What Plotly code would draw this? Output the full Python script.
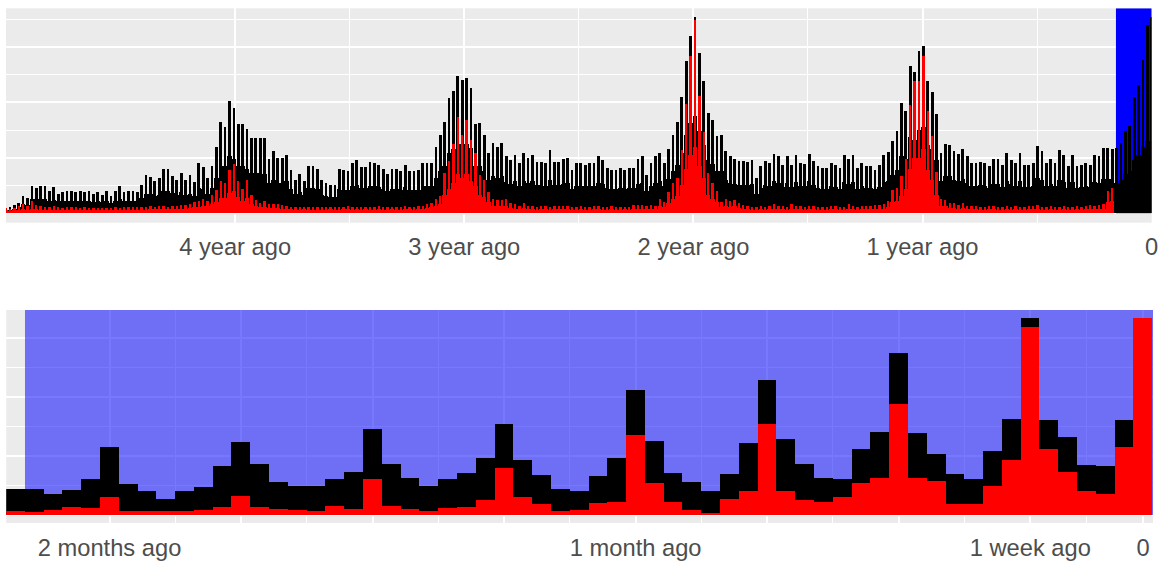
import plotly.graph_objects as go

# ---------------- data: top panel (weekly, 5 years, index 0 = oldest week) ----------------
weeks_ago = list(range(261, -1, -1))

top_black_peak = [
    0.12, 0.2, 0.3, 0.36, 0.6, 0.54, 0.98, 0.92, 0.98, 0.98,
    0.78, 0.95, 0.7, 0.76, 0.8, 0.8, 0.76, 0.78, 0.76, 0.78,
    0.7, 0.76, 0.64, 0.8, 0.62, 0.8, 0.98, 0.76, 0.8, 0.8,
    0.76, 1.02, 1.38, 1.3, 1.15, 1.26, 1.6, 1.58, 1.35, 1.2,
    1.45, 1.2, 1.38, 1.12, 1.8, 1.65, 1.25, 1.7, 2.4, 3.3,
    3.1, 4.05, 3.8, 3.2, 3.2, 3.05, 2.7, 2.7, 2.7, 2.7,
    1.95, 2.25, 2.0, 2.0, 2.1, 1.55, 1.2, 1.4, 1.15, 1.7,
    1.7, 1.6, 1.2, 1.1, 1.0, 1.0, 1.6, 1.55, 1.5, 1.82,
    1.9, 1.65, 1.65, 1.85, 1.8, 1.75, 1.6, 1.4, 1.6, 1.6,
    1.5, 1.75, 1.5, 1.5, 1.55, 1.8, 1.8, 1.8, 2.4, 2.8,
    3.3, 4.15, 4.4, 4.93, 4.8, 4.87, 4.5, 3.2, 3.25, 2.8,
    2.17, 2.52, 2.4, 2.52, 2.05, 1.93, 2.1, 1.8, 2.15, 2.0,
    2.1, 1.85, 1.83, 1.8, 2.29, 1.85, 1.85, 1.95, 2.0, 1.55,
    1.8, 1.8, 1.75, 1.8, 1.8, 2.05, 1.93, 1.62, 1.55, 1.55,
    1.62, 1.55, 1.62, 1.62, 1.95, 2.05, 1.38, 1.82, 2.05, 2.17,
    1.8, 2.3, 2.8, 3.27, 4.19, 5.48, 6.38, 7.08, 5.78, 4.75,
    3.61, 3.35, 2.77, 2.8, 2.23, 2.05, 1.95, 1.87, 1.87, 1.83,
    1.93, 1.26, 1.68, 1.87, 1.8, 2.14, 2.07, 1.75, 2.07, 1.75,
    2.1, 1.8, 1.77, 2.14, 1.87, 1.68, 1.62, 1.62, 1.8, 1.75,
    1.62, 2.1, 1.95, 2.1, 1.62, 1.82, 1.68, 1.68, 1.56, 1.75,
    2.1, 2.2, 2.6, 2.95, 3.97, 3.67, 5.29, 5.1, 5.84, 6.02,
    4.75, 4.36, 3.59, 2.17, 2.5, 2.47, 2.23, 2.14, 2.31, 2.05,
    1.8, 1.8, 1.83, 1.8, 1.68, 1.95, 1.95, 1.75, 2.17, 1.93,
    1.8, 2.17, 1.75, 1.72, 1.8, 2.41, 2.23, 1.8, 1.95, 1.8,
    2.29, 2.11, 1.68, 2.11, 1.68, 1.75, 1.8, 1.75, 2.11, 2.05,
    2.35, 2.35, 2.31, 2.35, 2.53, 2.95, 3.13, 4.19, 4.62, 5.54,
    6.79, 7.08,
]

top_black_base = [
    0.08, 0.1, 0.15, 0.2, 0.32, 0.3, 0.5, 0.5, 0.5, 0.5,
    0.44, 0.48, 0.42, 0.42, 0.44, 0.44, 0.42, 0.42, 0.42, 0.42,
    0.4, 0.42, 0.38, 0.42, 0.36, 0.42, 0.5, 0.42, 0.44, 0.44,
    0.42, 0.55, 0.7, 0.68, 0.62, 0.66, 0.8, 0.8, 0.72, 0.66,
    0.74, 0.66, 0.7, 0.62, 0.9, 0.88, 0.7, 0.9, 1.25, 1.7,
    1.7, 2.05, 1.95, 1.7, 1.7, 1.6, 1.45, 1.45, 1.45, 1.4,
    1.1, 1.2, 1.1, 1.1, 1.15, 0.85, 0.68, 0.76, 0.64, 0.92,
    0.92, 0.86, 0.66, 0.62, 0.58, 0.58, 0.86, 0.84, 0.82, 0.98,
    1.0, 0.9, 0.9, 0.98, 0.96, 0.94, 0.86, 0.78, 0.86, 0.86,
    0.82, 0.94, 0.82, 0.82, 0.84, 0.96, 0.96, 0.96, 1.25, 1.5,
    1.7, 2.15, 2.3, 2.5, 2.5, 2.5, 2.35, 1.7, 1.7, 1.5,
    1.2, 1.35, 1.28, 1.35, 1.12, 1.05, 1.14, 0.98, 1.14, 1.08,
    1.14, 1.0, 1.0, 0.98, 1.2, 1.0, 1.0, 1.05, 1.08, 0.85,
    0.98, 0.98, 0.96, 0.98, 0.98, 1.1, 1.05, 0.9, 0.85, 0.85,
    0.9, 0.85, 0.9, 0.9, 1.05, 1.1, 0.78, 0.98, 1.1, 1.16,
    0.98, 1.24, 1.5, 1.72, 2.15, 2.8, 3.25, 3.5, 2.95, 2.45,
    1.9, 1.78, 1.5, 1.5, 1.2, 1.1, 1.05, 1.0, 1.0, 1.0,
    1.03, 0.7, 0.9, 1.0, 0.97, 1.14, 1.1, 0.95, 1.1, 0.95,
    1.12, 0.97, 0.96, 1.14, 1.0, 0.9, 0.88, 0.88, 0.97, 0.95,
    0.88, 1.12, 1.05, 1.12, 0.88, 0.98, 0.9, 0.9, 0.85, 0.95,
    1.12, 1.16, 1.38, 1.55, 2.05, 1.95, 2.75, 2.65, 3.0, 3.1,
    2.45, 2.3, 1.9, 1.16, 1.32, 1.32, 1.2, 1.14, 1.24, 1.1,
    0.98, 0.98, 1.0, 0.98, 0.9, 1.05, 1.05, 0.95, 1.14, 1.04,
    0.98, 1.14, 0.95, 0.93, 0.98, 1.25, 1.18, 0.98, 1.05, 0.98,
    1.2, 1.12, 0.9, 1.12, 0.9, 0.95, 0.98, 0.95, 1.12, 1.1,
    1.24, 1.24, 1.22, 1.1, 1.2, 1.4, 1.5, 1.9, 2.1, 2.4,
    2.6, 2.6,
]

top_red_peak = [
    0.18, 0.14, 0.18, 0.24, 0.32, 0.24, 0.45, 0.28, 0.24, 0.22,
    0.2, 0.24, 0.2, 0.18, 0.2, 0.2, 0.2, 0.18, 0.2, 0.18,
    0.18, 0.18, 0.18, 0.18, 0.18, 0.2, 0.18, 0.2, 0.2, 0.2,
    0.22, 0.22, 0.2, 0.24, 0.22, 0.24, 0.26, 0.22, 0.24, 0.26,
    0.28, 0.3, 0.34, 0.4, 0.42, 0.5, 0.45, 0.66, 0.82, 1.14,
    1.08, 1.56, 1.78, 1.14, 0.87, 1.2, 0.66, 0.48, 0.36, 0.42,
    0.32, 0.32, 0.32, 0.28, 0.24, 0.22, 0.2, 0.2, 0.22, 0.2,
    0.2, 0.2, 0.2, 0.2, 0.22, 0.2, 0.2, 0.22, 0.24, 0.2,
    0.22, 0.2, 0.22, 0.2, 0.2, 0.26, 0.2, 0.2, 0.22, 0.2,
    0.2, 0.24, 0.22, 0.2, 0.24, 0.26, 0.32, 0.36, 0.5, 0.63,
    1.44, 1.86, 2.5, 3.47, 2.8, 3.37, 2.65, 2.17, 1.38, 1.2,
    0.75, 0.5, 0.48, 0.46, 0.5, 0.36, 0.32, 0.26, 0.36, 0.24,
    0.24, 0.22, 0.24, 0.26, 0.22, 0.24, 0.24, 0.26, 0.24, 0.22,
    0.22, 0.24, 0.2, 0.22, 0.26, 0.24, 0.22, 0.2, 0.24, 0.22,
    0.2, 0.22, 0.2, 0.28, 0.28, 0.28, 0.24, 0.28, 0.26, 0.5,
    0.38, 0.75, 1.08, 1.26, 2.29, 3.95, 5.68, 6.98, 4.21, 2.91,
    1.44, 1.1, 0.78, 0.4, 0.5, 0.42, 0.46, 0.36, 0.28, 0.24,
    0.22, 0.2, 0.24, 0.22, 0.24, 0.32, 0.26, 0.24, 0.22, 0.32,
    0.26, 0.24, 0.22, 0.24, 0.24, 0.2, 0.22, 0.2, 0.26, 0.24,
    0.22, 0.2, 0.32, 0.24, 0.22, 0.26, 0.24, 0.26, 0.28, 0.28,
    0.32, 0.45, 0.82, 0.9, 1.32, 1.95, 3.91, 4.78, 4.78, 5.68,
    3.67, 2.77, 1.47, 0.5, 0.48, 0.36, 0.36, 0.28, 0.36, 0.26,
    0.24, 0.24, 0.22, 0.2, 0.26, 0.24, 0.22, 0.2, 0.24, 0.22,
    0.24, 0.2, 0.22, 0.26, 0.24, 0.28, 0.2, 0.22, 0.24, 0.2,
    0.22, 0.26, 0.2, 0.22, 0.24, 0.22, 0.26, 0.28, 0.26, 0.3,
    0.32, 0.78, 0.9, 0.0, 0.0, 0.0, 0.0, 0.0, 0.0, 0.0,
    0.0, 7.08,
]

top_red_base = [
    0.1, 0.08, 0.1, 0.12, 0.14, 0.12, 0.16, 0.13, 0.12, 0.12,
    0.12, 0.12, 0.12, 0.12, 0.12, 0.12, 0.12, 0.12, 0.12, 0.12,
    0.12, 0.12, 0.12, 0.12, 0.12, 0.12, 0.12, 0.12, 0.12, 0.12,
    0.12, 0.12, 0.12, 0.13, 0.13, 0.13, 0.14, 0.13, 0.13, 0.14,
    0.15, 0.16, 0.18, 0.2, 0.22, 0.26, 0.25, 0.34, 0.4, 0.55,
    0.55, 0.72, 0.8, 0.58, 0.45, 0.55, 0.34, 0.26, 0.2, 0.22,
    0.18, 0.18, 0.18, 0.16, 0.14, 0.13, 0.12, 0.12, 0.13, 0.12,
    0.12, 0.12, 0.12, 0.12, 0.13, 0.12, 0.12, 0.13, 0.13, 0.12,
    0.13, 0.12, 0.13, 0.12, 0.12, 0.14, 0.12, 0.12, 0.13, 0.12,
    0.12, 0.13, 0.13, 0.12, 0.13, 0.14, 0.17, 0.2, 0.26, 0.32,
    0.65, 0.85, 1.1, 1.4, 1.25, 1.4, 1.15, 0.98, 0.66, 0.56,
    0.38, 0.26, 0.25, 0.24, 0.26, 0.18, 0.16, 0.14, 0.18, 0.13,
    0.13, 0.12, 0.13, 0.14, 0.12, 0.13, 0.13, 0.14, 0.13, 0.12,
    0.12, 0.13, 0.12, 0.12, 0.14, 0.13, 0.12, 0.12, 0.13, 0.12,
    0.12, 0.13, 0.12, 0.15, 0.15, 0.15, 0.13, 0.15, 0.14, 0.26,
    0.2, 0.36, 0.52, 0.6, 1.0, 1.6, 2.1, 2.4, 1.7, 1.25,
    0.66, 0.52, 0.38, 0.2, 0.26, 0.22, 0.24, 0.18, 0.14, 0.13,
    0.12, 0.12, 0.13, 0.12, 0.13, 0.16, 0.14, 0.13, 0.12, 0.16,
    0.14, 0.13, 0.12, 0.13, 0.13, 0.12, 0.12, 0.12, 0.14, 0.13,
    0.12, 0.12, 0.16, 0.13, 0.12, 0.14, 0.13, 0.14, 0.15, 0.15,
    0.16, 0.22, 0.4, 0.45, 0.62, 0.88, 1.6, 2.0, 2.0, 2.3,
    1.55, 1.2, 0.66, 0.26, 0.25, 0.18, 0.18, 0.14, 0.18, 0.13,
    0.13, 0.13, 0.12, 0.12, 0.14, 0.13, 0.12, 0.12, 0.13, 0.12,
    0.13, 0.12, 0.12, 0.14, 0.13, 0.15, 0.12, 0.12, 0.13, 0.12,
    0.12, 0.14, 0.12, 0.12, 0.13, 0.12, 0.14, 0.15, 0.14, 0.16,
    0.16, 0.38, 0.44, 0.0, 0.0, 0.0, 0.0, 0.0, 0.0, 0.0,
    0.0, 0.0,
]

top_tick_vals = [-4, -3, -2, -1, 0]
top_tick_text = ["4 year ago", "3 year ago", "2 year ago", "1 year ago", "0"]

# ---------------- data: bottom panel (daily, last ~2 months) ----------------
days_ago = list(range(-60, 1))
bottom_black = [
    0.89, 0.87, 0.73, 0.85, 1.23, 2.3, 1.04, 0.81, 0.53, 0.81,
    0.96, 1.67, 2.49, 1.72, 1.12, 0.99, 0.99, 1.21, 1.47, 2.93,
    1.72, 1.27, 1.0, 1.21, 1.41, 1.94, 3.08, 1.86, 1.36, 0.88,
    0.81, 1.32, 1.94, 4.24, 2.5, 1.43, 1.13, 0.81, 1.38, 2.43,
    4.58, 2.58, 1.73, 1.24, 1.22, 2.24, 2.82, 5.48, 2.77, 2.06,
    1.38, 1.23, 2.18, 3.25, 6.67, 3.22, 2.63, 1.69, 1.66, 3.22,
    6.67,
]
bottom_red = [
    0.15, 0.1, 0.18, 0.26, 0.24, 0.6, 0.13, 0.15, 0.13, 0.15,
    0.17, 0.26, 0.64, 0.28, 0.21, 0.18, 0.13, 0.29, 0.21, 1.22,
    0.29, 0.21, 0.15, 0.24, 0.26, 0.51, 1.58, 0.6, 0.37, 0.15,
    0.17, 0.4, 0.45, 2.7, 1.08, 0.43, 0.18, 0.08, 0.54, 0.82,
    3.08, 0.82, 0.51, 0.45, 0.6, 1.07, 1.27, 3.75, 1.27, 1.15,
    0.37, 0.37, 0.98, 1.87, 6.36, 2.25, 1.45, 0.82, 0.73, 2.32,
    6.67,
]
bottom_tick_vals = [-55, -48, -41, -34, -27, -20, -13, -6, 0]
bottom_tick_text = ["2 months ago", "", "", "", "1 month ago", "", "", "1 week ago", "0"]

# ---------------- figure ----------------
YEAR_DAYS = 365.25
top_x = [-w * 7 / YEAR_DAYS for w in weeks_ago]
week_w = 7 / YEAR_DAYS
black_spike_w = 4.4 / YEAR_DAYS
red_spike_w = 3.8 / YEAR_DAYS

fig = go.Figure()
common = dict(hoverinfo="skip", showlegend=False, marker_line_width=0)
fig.add_trace(go.Bar(x=top_x, y=top_black_base, width=week_w, marker_color="black",
                     xaxis="x", yaxis="y", **common))
fig.add_trace(go.Bar(x=top_x, y=top_black_peak, width=black_spike_w, marker_color="black",
                     xaxis="x", yaxis="y", **common))
fig.add_trace(go.Bar(x=top_x, y=top_red_base, width=week_w, marker_color="#FF0000",
                     xaxis="x", yaxis="y", **common))
fig.add_trace(go.Bar(x=top_x, y=top_red_peak, width=red_spike_w, marker_color="#FF0000",
                     xaxis="x", yaxis="y", **common))

fig.add_trace(go.Bar(x=days_ago, y=bottom_black, width=1, marker_color="black",
                     xaxis="x2", yaxis="y2", **common))
fig.add_trace(go.Bar(x=days_ago, y=bottom_red, width=1, marker_color="#FF0000",
                     xaxis="x2", yaxis="y2", **common))

W, H = 1165, 561
def px_x(a, b):
    return [a / W, b / W]
def px_y(top, bottom):
    return [(H - bottom) / H, (H - top) / H]

label_font = dict(family="Liberation Sans, Arial, sans-serif", size=23.7, color="#4D4D4D")
grid_common = dict(showgrid=True, gridcolor="white", zeroline=False, showline=False,
                   ticks="", fixedrange=True, automargin=False)

fig.update_layout(
    width=W, height=H,
    margin=dict(l=0, r=0, t=0, b=0, autoexpand=False),
    paper_bgcolor="white", plot_bgcolor="#EBEBEB",
    barmode="overlay", bargap=0,
    xaxis=dict(domain=px_x(6, 1151.7), range=[-5.0, 0.0], anchor="y",
               tickmode="array", tickvals=top_tick_vals, ticktext=top_tick_text,
               tickfont=label_font, ticklabelstandoff=8, gridwidth=2,
               minor=dict(tickmode="array", tickvals=[-3.5, -2.5, -1.5, -0.5],
                          showgrid=True, gridcolor="white", gridwidth=1.1),
               **grid_common),
    yaxis=dict(domain=px_y(8.3, 222.7), range=[-0.34, 7.4], anchor="x",
               tickmode="array", tickvals=[0, 2, 4, 6], showticklabels=False, gridwidth=2,
               minor=dict(tickmode="array", tickvals=[1, 3, 5, 7],
                          showgrid=True, gridcolor="white", gridwidth=1.1),
               **grid_common),
    xaxis2=dict(domain=px_x(6.2, 1153), range=[-60.5, 0.53], anchor="y2",
                tickmode="array", tickvals=bottom_tick_vals, ticktext=bottom_tick_text,
                tickfont=label_font, ticklabelstandoff=8, gridwidth=2,
                minor=dict(tickmode="array",
                           tickvals=[-51.5, -44.5, -37.5, -30.5, -23.5, -16.5, -9.5, -3],
                           showgrid=True, gridcolor="white", gridwidth=1.1),
                **grid_common),
    yaxis2=dict(domain=px_y(310, 523), range=[-0.27, 6.95], anchor="x2",
                tickmode="array", tickvals=[0, 2, 4, 6], showticklabels=False, gridwidth=2,
                minor=dict(tickmode="array", tickvals=[1, 3, 5],
                           showgrid=True, gridcolor="white", gridwidth=1.1),
                **grid_common),
    shapes=[
        dict(type="rect", xref="x", yref="y", x0=-0.156, x1=0.0, y0=0, y1=7.4,
             fillcolor="#0000FF", line=dict(width=0), layer="between"),
        dict(type="rect", xref="x2", yref="y2", x0=-59.5, x1=0.53, y0=0, y1=6.95,
             fillcolor="#0000FF", opacity=0.53, line=dict(width=0), layer="between"),
    ],
)

fig.write_html(
    "out.html",
    config={"displayModeBar": False},
    post_script="document.body.style.margin='0';document.body.style.overflow='hidden';",
)
